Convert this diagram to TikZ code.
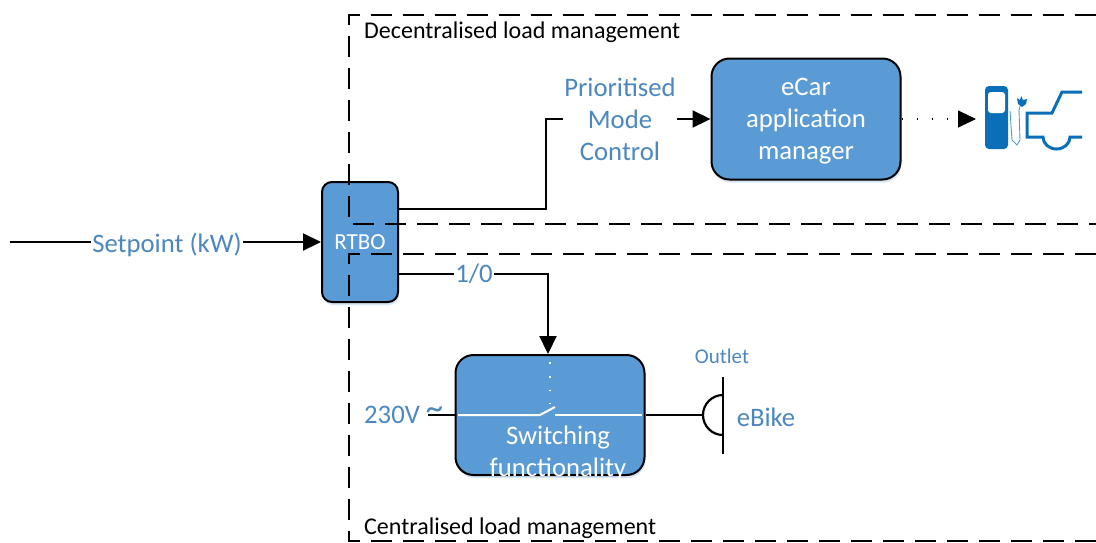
\documentclass[tikz,border=0pt]{standalone}
\usepackage{fontspec}
\setmainfont{Carlito}
\usetikzlibrary{arrows.meta,shadows}
\definecolor{blockblue}{HTML}{5B9BD5}
\definecolor{textblue}{HTML}{4C88BF}
\definecolor{iconblue}{HTML}{0B6FB8}
\tikzset{
  block/.style={draw=black,line width=2pt,fill=blockblue,rounded corners=18pt,text=white,align=center,
    font=\fontsize{26.7}{32}\selectfont,drop shadow={shadow xshift=1pt,shadow yshift=-3pt,fill=blockblue,opacity=0.25}},
  lbl/.style={text=textblue,font=\fontsize{26.7}{32}\selectfont,align=center,fill=white,inner sep=1pt},
  title/.style={text=black,font=\fontsize{24}{28}\selectfont,anchor=west,inner sep=0pt},
  wire/.style={line width=2.2pt},
  arrow/.style={wire,-{Triangle[length=18pt,width=17pt]}},
  zone/.style={line width=2.1pt,dash pattern=on 21pt off 11pt},
}
\begin{document}
\begin{tikzpicture}[x=1pt,y=-1pt]
\useasboundingbox (0,0) rectangle (1096,542);
\node[block,minimum width=76pt,minimum height=120pt,rounded corners=10pt,font=\fontsize{23}{26}\selectfont,inner sep=0pt] (rtbo) at (360,242) {RTBO};
\node[block,minimum width=189pt,minimum height=121pt] (ecar) at (806,119) {\strut eCar\\application\\manager};
\node[block,minimum width=189pt,minimum height=120pt] (switch) at (550,415) {};
\node[text=white,font=\fontsize{26.7}{32}\selectfont,align=center,inner sep=0pt] (switchtext) at (558,453) {Switching\\functionality};
% zones
\draw[zone] (1096,15) -- (349,15) -- (349,224) -- (1096,224);
\draw[zone] (1096,254) -- (349,254) -- (349,541) -- (1096,541);
\node[title] (decentral) at (364,32) {Decentralised load management};
\node[title] (central) at (364,528) {Centralised load management};
% setpoint
\coordinate (start) at (10,242);
\node[lbl] (setpoint) at (167,245) {Setpoint (kW)};
\draw[wire] (start) -- (start -| setpoint.west);
\draw[arrow] (start -| setpoint.east) -- (start -| rtbo.west);
% ecar branch
\node[lbl] (mode) at (620,119) {Prioritised\\Mode\\Control};
\coordinate (bend) at (546,209);
\draw[wire] (rtbo.east |- bend) -- (bend) -- (bend |- mode.west) -- (mode.west);
\draw[arrow] (mode.east) -- (ecar.west);
\coordinate (pump) at (976,119);
\coordinate (dotend) at (958,119);
\draw[line width=1.4pt,dash pattern=on 1.6pt off 13.5pt] (ecar.east) -- (dotend);
\draw[arrow,line width=1pt] (dotend) -- (pump);
% switch branch
\node[lbl] (onoff) at (474,274) {1/0};
\coordinate (drop) at (548,274);
\draw[wire] (rtbo.east |- onoff) -- (onoff);
\draw[arrow] (onoff) -- (drop) -- (switch.north -| drop);
\node[lbl,fill=none,anchor=west,inner sep=0pt] (mains) at (364,415) {230V \raisebox{4pt}{\scalebox{1.3}{\textasciitilde}}};
\coordinate (mainsend) at (428,415);
\draw[wire] (mainsend) -- (switch.west);
\coordinate (contacta) at (540,415);
\coordinate (contactb) at (555,415);
\coordinate (blade) at (555,407);
\coordinate (pull) at (550,362);
\coordinate (pullend) at (550,404);
\coordinate (swl) at (458,415);
\coordinate (swr) at (642,415);
\draw[white,line width=2pt] (swl) -- (contacta) -- (blade);
\draw[white,line width=2pt] (contactb) -- (swr);
\draw[white,line width=1.8pt,dash pattern=on 1.8pt off 12pt] (pull) -- (pullend);
% outlet
\coordinate (outlet) at (703,415);
\coordinate (outtop) at (723,377);
\coordinate (outbot) at (723,454);
\draw[wire] (switch.east) -- (outlet);
\draw[wire] (723,435) arc[start angle=90,end angle=270,radius=20];
\draw[wire] (outtop) -- (outbot);
\node[lbl,font=\fontsize{21}{24}\selectfont] (outletlbl) at (722,356) {Outlet};
\node[lbl] (ebike) at (766,417) {eBike};
% charging icon
\fill[iconblue,rounded corners=4pt] (985,86) rectangle (1008,149);
\fill[white,rounded corners=3pt] (988,92) rectangle (1005,113);
\draw[iconblue!70,line width=0.9pt] (1010,111) -- (1012,140) -- (1017,145) -- (1020,140) -- (1019,110) -- (1021,103);
\fill[iconblue] (1017,98) -- (1020,100) -- (1021,96) -- (1023,100) -- (1027,99) -- (1026,104) -- (1022,107) -- (1018,104) -- cycle;
\draw[iconblue,line width=3pt] (1082,92) -- (1062,92) -- (1052,113) -- (1027,113) -- (1027,137) -- (1043,137) arc[start angle=180,end angle=0,x radius=13.5,y radius=12] -- (1082,137);
\end{tikzpicture}
\end{document}
